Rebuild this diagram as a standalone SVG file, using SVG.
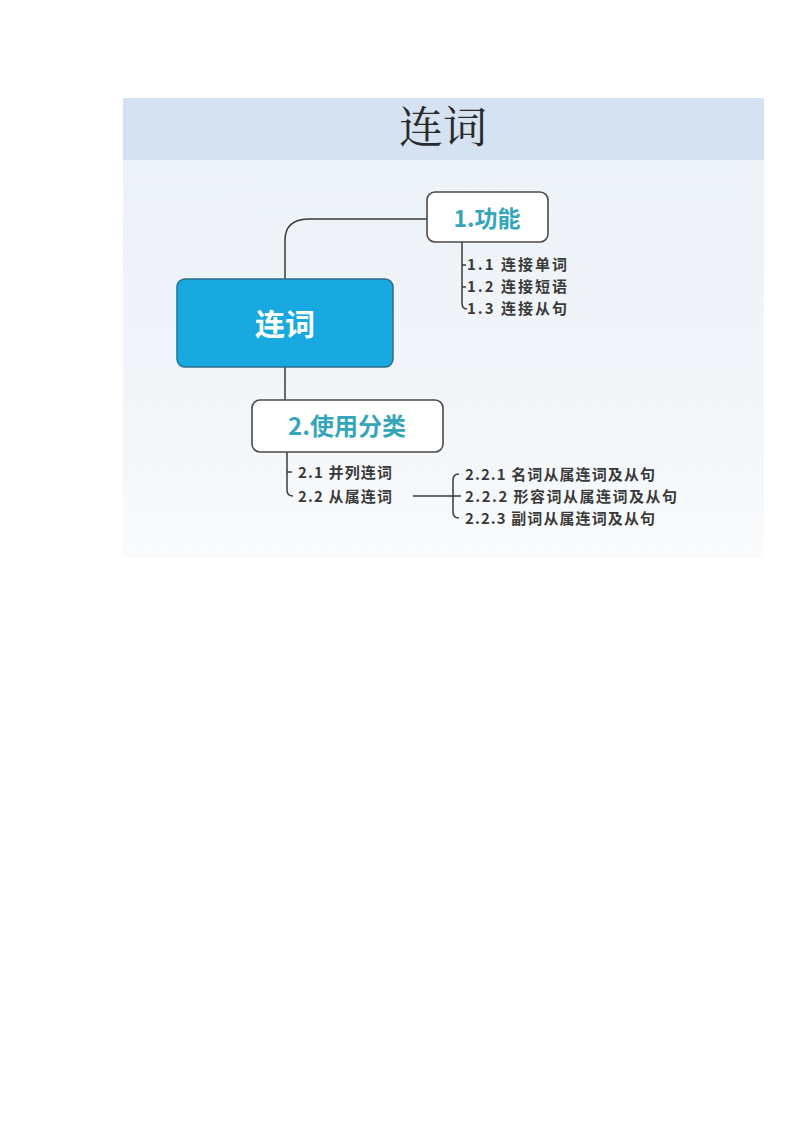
<svg xmlns="http://www.w3.org/2000/svg" width="800" height="1132" viewBox="0 0 800 1132">
<defs>
<pattern id="grid" width="14" height="14" patternUnits="userSpaceOnUse">
<path d="M14 0H0V14" fill="none" stroke="#e3eaf1" stroke-width="0.6"/>
</pattern>
<linearGradient id="fade" x1="0" y1="0" x2="0" y2="1">
<stop offset="0" stop-color="#eef3f8" stop-opacity="0"/>
<stop offset="1" stop-color="#ffffff" stop-opacity="0.7"/>
</linearGradient>
<style>
.box{fill:#ffffff;stroke:#4a4a4a;stroke-width:1.6}
.lbl{font-family:"Noto Sans CJK SC","Noto Sans",sans-serif;font-weight:bold;fill:#35a5ba;text-anchor:middle}
.sub{font-family:"Noto Sans CJK SC","Noto Sans",sans-serif;font-weight:bold;font-size:15px;fill:#3a3a3a}
.wire{fill:none;stroke:#3a3a3a;stroke-width:1.5}
</style>
</defs>
<rect width="800" height="1132" fill="#ffffff"/>
<g id="panel">
<rect x="123" y="98" width="641" height="460" fill="#eef3f8"/>
<rect x="123" y="160" width="641" height="398" fill="url(#grid)"/>
<rect x="123" y="160" width="641" height="398" fill="url(#fade)"/>
<rect x="123" y="98" width="641" height="62" fill="#d4e2f2"/>
<text x="443" y="143" font-family="'Noto Serif CJK SC','Noto Sans CJK SC',serif" font-size="44" fill="#2a2a2a" text-anchor="middle">连词</text>
</g>
<g id="connectors">
<path class="wire" d="M285 279V240Q285 219 310 219H428"/>
<path class="wire" d="M285 367V400"/>
<path class="wire" d="M462 242V303Q462 309 467 309M462 265H466M462 287H466"/>
<path class="wire" d="M287 452V490Q287 496 293 496M287 472H292"/>
<path class="wire" d="M413 496H461M453 496V512Q453 518 459 518M453 496V480Q453 474 459 474"/>
</g>
<g id="root">
<rect x="177" y="279" width="216" height="88" rx="8" fill="#19a9e1" stroke="#2b6e8c" stroke-width="1.5"/>
<text x="285" y="335" font-family="'Noto Sans CJK SC',sans-serif" font-weight="bold" font-size="30" fill="#ffffff" text-anchor="middle">连词</text>
</g>
<g id="n1">
<rect class="box" x="427" y="192" width="121" height="50" rx="8"/>
<text class="lbl" x="487" y="227" font-size="23">1.功能</text>
</g>
<g id="n1-items">
<text class="sub" x="467" y="270" textLength="100" lengthAdjust="spacing">1.1 连接单词</text>
<text class="sub" x="467" y="292" textLength="100" lengthAdjust="spacing">1.2 连接短语</text>
<text class="sub" x="467" y="314" textLength="100" lengthAdjust="spacing">1.3 连接从句</text>
</g>
<g id="n2">
<rect class="box" x="252" y="400" width="191" height="52" rx="8"/>
<text class="lbl" x="347" y="435" font-size="24">2.使用分类</text>
</g>
<g id="n2-items">
<text class="sub" x="298" y="478" textLength="94" lengthAdjust="spacing">2.1 并列连词</text>
<text class="sub" x="298" y="502" textLength="94" lengthAdjust="spacing">2.2 从属连词</text>
</g>
<g id="n22-items">
<text class="sub" x="465" y="480" textLength="190" lengthAdjust="spacing">2.2.1 名词从属连词及从句</text>
<text class="sub" x="465" y="502" textLength="212" lengthAdjust="spacing">2.2.2 形容词从属连词及从句</text>
<text class="sub" x="465" y="524" textLength="190" lengthAdjust="spacing">2.2.3 副词从属连词及从句</text>
</g>
</svg>
